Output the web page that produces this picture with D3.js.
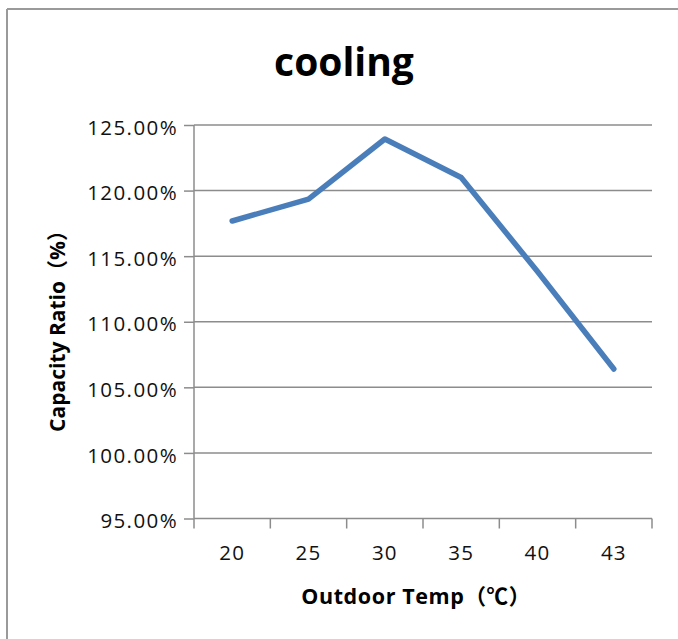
<!DOCTYPE html>
<html><head><meta charset="utf-8">
<script src="https://cdn.jsdelivr.net/npm/d3@7"></script>
<style>body{margin:0;background:#fff}svg{display:block}</style>
</head><body>
<script>
const categories = ["20","25","30","35","40","43"];
const capacityRatio = [117.68, 119.35, 123.93, 121.0, 113.83, 106.4];
const yTicks = [95,100,105,110,115,120,125];
const titleText = "cooling";
const xTitle = "Outdoor Temp（℃）";
const yTitle = "Capacity Ratio（%）";

const W = 678, H = 639;
const svg = d3.select("body").append("svg").attr("width", W).attr("height", H);
const font = "'Open Sans', 'Noto Sans CJK SC', sans-serif";

// outer frame (top and left visible)
svg.append("line").attr("x1",7).attr("y1",9).attr("x2",W).attr("y2",9).attr("stroke","#9a9a9a").attr("stroke-width",2);
svg.append("line").attr("x1",7).attr("y1",9).attr("x2",7).attr("y2",H).attr("stroke","#9a9a9a").attr("stroke-width",2);

const L = 194, R = 652, T = 125, B = 518.5;
const x = d3.scaleBand().domain(categories).range([L, R]);
const y = d3.scaleLinear().domain([95,125]).range([B, T]);

// gridlines
svg.append("g").selectAll("line").data(yTicks.filter(d=>d!==95)).join("line")
  .attr("x1", L).attr("x2", R).attr("y1", d=>y(d)).attr("y2", d=>y(d))
  .attr("stroke","#8c8c8c").attr("stroke-width",1.5);

// y axis
const yAxis = svg.append("g").attr("transform",`translate(${L},0)`)
  .call(d3.axisLeft(y).tickValues(yTicks).tickSize(10).tickPadding(6).tickFormat(d=>d3.format(".2f")(d)+"%"));
yAxis.select(".domain").attr("stroke","#8c8c8c").attr("stroke-width",1.5).attr("d",`M-0,${B}V${T}`);
yAxis.selectAll(".tick line").attr("stroke","#8c8c8c").attr("stroke-width",1.5);
yAxis.selectAll(".tick text").attr("font-family",font).attr("font-size",20.5).attr("letter-spacing","1.4px")
  .attr("dy","0.45em").attr("fill","#111");

// x axis
const xAxis = svg.append("g").attr("transform",`translate(0,${B})`)
  .call(d3.axisBottom(x).tickSize(0).tickPadding(0));
xAxis.select(".domain").attr("stroke","#8c8c8c").attr("stroke-width",1.5).attr("d",`M${L},0H${R}`);
xAxis.selectAll(".tick text").attr("font-family",font).attr("font-size",20.5).attr("letter-spacing","1.2px")
  .attr("dy",null).attr("y",41.5).attr("fill","#111");
// boundary tick marks
const edges = categories.map(c=>x(c)).concat([x(categories[categories.length-1])+x.bandwidth()]);
xAxis.append("g").selectAll("line").data(edges).join("line")
  .attr("x1",d=>d).attr("x2",d=>d).attr("y1",0).attr("y2",10)
  .attr("stroke","#8c8c8c").attr("stroke-width",1.5);

// line
const line = d3.line().x((d,i)=>x(categories[i])+x.bandwidth()/2).y(d=>y(d));
svg.append("path").datum(capacityRatio).attr("d",line)
  .attr("fill","none").attr("stroke","#4a7ebb").attr("stroke-width",5.5)
  .attr("stroke-linejoin","round").attr("stroke-linecap","round");

// title
svg.append("text").attr("x",344).attr("y",76).attr("text-anchor","middle")
  .attr("font-family",font).attr("font-weight","bold").attr("font-size",39).attr("fill","#000").text(titleText);

// axis titles
svg.append("text").attr("x",416).attr("y",604).attr("text-anchor","middle")
  .attr("font-family",font).attr("font-weight","bold").attr("font-size",21.5).attr("letter-spacing","0.6px")
  .attr("fill","#000").text(xTitle);
svg.append("text").attr("transform","translate(65,326) rotate(-90)").attr("text-anchor","middle")
  .attr("font-family",font).attr("font-weight","bold").attr("font-size",21).attr("fill","#000").text(yTitle);
</script>
</body></html>
